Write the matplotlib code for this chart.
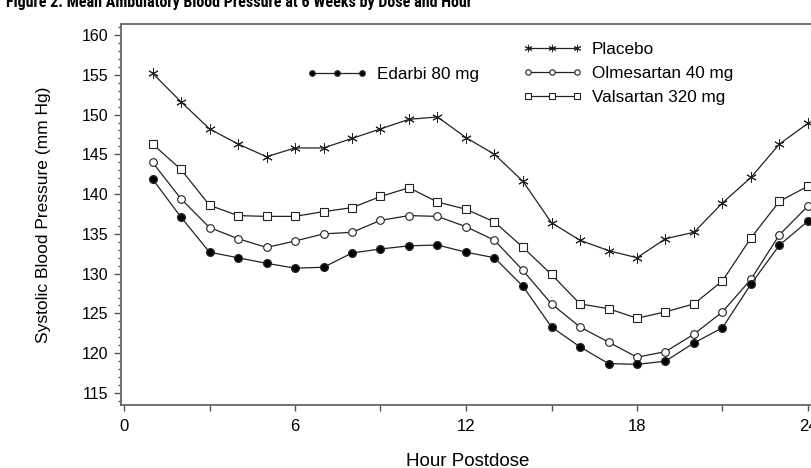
import matplotlib
matplotlib.use('Agg')
import matplotlib.pyplot as plt
from matplotlib import font_manager
from matplotlib.ticker import MultipleLocator

plt.rcParams.update({
    'font.family': ['Liberation Sans', 'DejaVu Sans'],
    'font.size': 11,
})

hours = list(range(1, 25))
placebo = [155.2, 151.6, 148.2, 146.3, 144.7, 145.8, 145.8, 147.0, 148.2, 149.4, 149.7, 147.1,
           145.0, 141.6, 136.4, 134.2, 132.9, 132.0, 134.4, 135.2, 138.9, 142.1, 146.3, 148.9]
olmesartan = [144.0, 139.4, 135.8, 134.4, 133.3, 134.1, 135.0, 135.2, 136.7, 137.3, 137.2, 135.9,
              134.2, 130.4, 126.2, 123.3, 121.4, 119.5, 120.2, 122.4, 125.2, 129.3, 134.9, 138.5]
valsartan = [146.3, 143.1, 138.6, 137.3, 137.2, 137.2, 137.8, 138.3, 139.7, 140.8, 139.0, 138.1,
             136.5, 133.3, 129.9, 126.2, 125.6, 124.4, 125.2, 126.2, 129.1, 134.5, 139.1, 141.0]
edarbi = [141.9, 137.1, 132.7, 132.0, 131.3, 130.7, 130.8, 132.6, 133.1, 133.5, 133.6, 132.7,
          132.0, 128.4, 123.3, 120.8, 118.7, 118.6, 119.0, 121.3, 123.2, 128.7, 133.6, 136.6]

TITLE = 'Figure 2. Mean Ambulatory Blood Pressure at 6 Weeks by Dose and Hour'

W, H = 812, 468
fig = plt.figure(figsize=(W / 100, H / 100), dpi=100)
# axes runs just past the right edge, like the cropped original
ax = fig.add_axes([121 / W, 1 - 405 / H, (814 - 121) / W, (405 - 24) / H])

line_kw = dict(color='#222222', linewidth=0.9)
l_pl, = ax.plot(hours, placebo, marker=(6, 2, 0), markersize=7.5, markeredgewidth=0.7,
                label='Placebo', **line_kw)
l_ol, = ax.plot(hours, olmesartan, marker='o', markersize=5.5, markerfacecolor='white',
                markeredgewidth=0.8, label='Olmesartan 40 mg', **line_kw)
l_va, = ax.plot(hours, valsartan, marker='s', markersize=5.5, markerfacecolor='white',
                markeredgewidth=0.8, label='Valsartan 320 mg', **line_kw)
l_ed, = ax.plot(hours, edarbi, marker='o', markersize=5.5, markerfacecolor='black',
                label='Edarbi 80 mg', **line_kw)

ax.set_xlim(-3 / 28.5, (814 - 124) / 28.5)
ax.set_ylim(115 - 12 / 7.96, 160 + 11 / 7.96)
ax.xaxis.set_major_locator(MultipleLocator(6))
ax.xaxis.set_minor_locator(MultipleLocator(3))
ax.yaxis.set_major_locator(MultipleLocator(5))
ax.yaxis.set_minor_locator(MultipleLocator(1))
ax.tick_params(which='both', direction='out', color='#555555', width=1.0)
ax.tick_params(axis='x', which='major', length=4, pad=6, labelsize=12)
ax.tick_params(axis='x', which='minor', length=4)
ax.tick_params(axis='y', which='major', length=5, pad=4, labelsize=11.5)
ax.tick_params(axis='y', which='minor', length=2.5)
for s in ax.spines.values():
    s.set_color('#666666')
    s.set_linewidth(1.3)

ax.set_xlabel('Hour Postdose', fontsize=13.5, labelpad=14)
ax.set_ylabel('Systolic Blood Pressure (mm Hg)', fontsize=12.5, labelpad=22)

leg_kw = dict(bbox_transform=fig.transFigure, frameon=False, numpoints=3,
              handlelength=3.47, handletextpad=0.58, fontsize=12.3, markerscale=0.7,
              loc='upper left')
leg1 = ax.legend(handles=[l_ed], bbox_to_anchor=(292 / W, 1 - 52 / H), **leg_kw)
ax.add_artist(leg1)
ax.legend(handles=[l_pl, l_ol, l_va], bbox_to_anchor=(507 / W, 1 - 27 / H),
          labelspacing=0.51, **leg_kw)

# title: a condensed bold face when one is installed; its top is cropped off in the original
names = {f.name for f in font_manager.fontManager.ttflist}
title_family = 'Liberation Sans'
for cand in ['Roboto Condensed', 'Liberation Sans Narrow', 'DejaVu Sans Condensed']:
    if cand in names:
        title_family = cand
        break
fig.text(6 / W, 1 - 7 / H, TITLE, family=title_family, fontweight='bold',
         fontsize=11.5, va='baseline', ha='left')

fig.savefig('out.png', dpi=100)
